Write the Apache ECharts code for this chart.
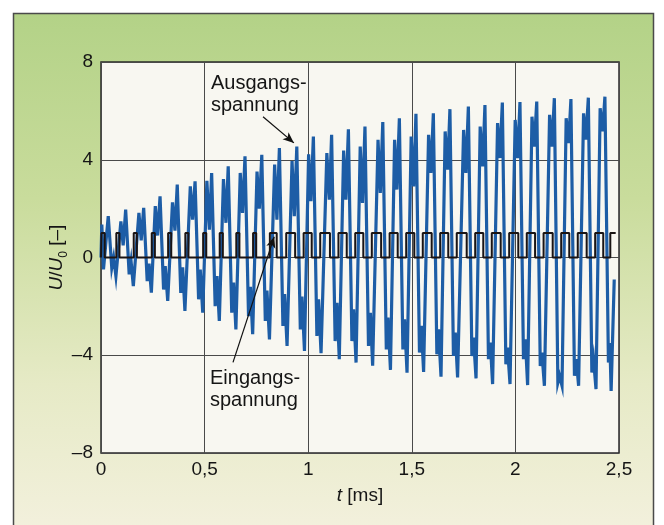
<!DOCTYPE html>
<html>
<head>
<meta charset="utf-8">
<script src="https://cdn.jsdelivr.net/npm/echarts@6/dist/echarts.min.js"></script>
<style>
html,body{margin:0;padding:0;background:#ffffff;}
#c{width:664px;height:525px;}
</style>
</head>
<body>
<div id="c"></div>
<script>
// ---- data ----
const xTicks = ['0', '0,5', '1', '1,5', '2', '2,5'];
const yTicks = [-8, -4, 0, 4, 8];

// Ausgangsspannung U/U0 over t [ms]
const outputSignal = [
  [0,0],[0.004,1.35],[0.012,-0.49],[0.035,1.69],[0.052,-0.42],[0.061,0.0],[0.072,-0.76],
  [0.096,1.48],[0.107,0.5],[0.119,1.96],[0.136,-0.69],[0.145,-0.15],[0.156,-1.17],
  [0.183,1.83],[0.194,0.7],[0.206,2.03],[0.223,-0.97],[0.232,-0.25],[0.243,-1.44],
  [0.262,2.1],[0.273,0.9],[0.285,2.5],[0.302,-1.31],[0.310,-0.35],[0.322,-1.78],
  [0.345,2.26],[0.357,1.1],[0.368,2.98],[0.385,-1.45],[0.394,-0.4],[0.405,-2.19],
  [0.431,2.91],[0.442,1.55],[0.454,3.12],[0.471,-1.71],[0.479,-0.49],[0.491,-2.26],
  [0.511,3.14],[0.523,1.14],[0.534,3.46],[0.551,-1.99],[0.560,-0.76],[0.571,-2.6],
  [0.591,3.21],[0.603,1.42],[0.614,3.73],[0.631,-2.26],[0.640,-1.03],[0.651,-2.94],
  [0.672,3.46],[0.683,1.82],[0.695,4.14],[0.712,-2.4],[0.721,-1.2],[0.732,-3.14],
  [0.753,3.52],[0.764,2.0],[0.776,4.2],[0.793,-2.6],[0.801,-1.35],[0.813,-3.35],
  [0.838,3.8],[0.849,1.55],[0.861,4.48],[0.878,-2.8],[0.886,-1.5],[0.898,-3.62],
  [0.922,3.95],[0.933,1.69],[0.945,4.54],[0.962,-2.94],[0.970,-1.6],[0.982,-3.82],
  [1.002,4.22],[1.013,2.3],[1.025,4.95],[1.042,-3.21],[1.050,-1.71],[1.062,-3.92],
  [1.090,4.27],[1.102,2.37],[1.113,5.02],[1.130,-3.42],[1.139,-1.85],[1.150,-4.16],
  [1.171,4.38],[1.182,2.37],[1.194,5.25],[1.211,-3.42],[1.219,-2.12],[1.231,-4.3],
  [1.251,4.54],[1.262,2.23],[1.274,5.36],[1.291,-3.62],[1.300,-2.26],[1.311,-4.43],
  [1.337,4.82],[1.348,2.64],[1.360,5.54],[1.377,-3.76],[1.385,-2.46],[1.397,-4.6],
  [1.417,4.82],[1.428,2.78],[1.440,5.7],[1.457,-3.76],[1.465,-2.53],[1.477,-4.71],
  [1.497,4.95],[1.509,2.91],[1.520,5.88],[1.537,-3.89],[1.546,-2.8],[1.557,-4.68],
  [1.581,5.02],[1.592,3.46],[1.604,5.9],[1.621,-3.96],[1.629,-2.94],[1.641,-4.88],
  [1.661,5.16],[1.673,3.6],[1.684,6.07],[1.701,-4.03],[1.710,-3.07],[1.721,-4.91],
  [1.750,5.22],[1.761,3.46],[1.773,6.18],[1.790,-4.03],[1.798,-3.28],[1.810,-4.95],
  [1.830,5.36],[1.842,3.73],[1.853,6.24],[1.870,-4.16],[1.879,-3.48],[1.890,-5.18],
  [1.914,5.5],[1.925,4.07],[1.937,6.34],[1.954,-4.37],[1.962,-3.69],[1.974,-5.18],
  [1.999,5.63],[2.011,4.07],[2.022,6.36],[2.039,-4.16],[2.048,-3.35],[2.059,-5.22],
  [2.080,5.76],[2.091,4.54],[2.103,6.38],[2.120,-4.44],[2.128,-3.89],[2.140,-5.25],
  [2.165,5.84],[2.176,4.54],[2.188,6.52],[2.205,-5.12],[2.213,-4.84],[2.225,-5.25],
  [2.245,5.7],[2.257,4.68],[2.268,6.48],[2.285,-4.84],[2.294,-4.16],[2.305,-5.25],
  [2.329,5.9],[2.340,4.82],[2.352,6.54],[2.369,-4.71],[2.377,-4.16],[2.389,-5.39],
  [2.409,6.11],[2.421,5.16],[2.432,6.58],[2.449,-4.3],[2.456,-3.5],[2.462,-5.46],
  [2.477,-0.9]
];

// Eingangsspannung: pulse edges (level 0 -> 1 at rise, 1 -> 0 at fall), t [ms]
const inputRise = [0.002,0.074,0.158,0.245,0.324,0.407,0.493,0.573,0.653,0.734,
  0.815,0.894,0.978,1.058,1.146,1.227,1.307,1.393,1.473,1.553,1.637,1.717,1.806,
  1.886,1.970,2.055,2.136,2.221,2.301,2.385,2.458];
const inputFall = [0.018,0.089,0.173,0.260,0.339,0.422,0.508,0.588,0.668,0.749,
  0.848,0.937,1.017,1.105,1.186,1.266,1.352,1.432,1.512,1.596,1.676,1.765,1.845,
  1.929,2.014,2.095,2.180,2.260,2.344,2.424,2.484];
const inputHigh = 1;
const inputLow = 0;

// ---- build series data ----
const inputSignal = [[0, inputLow]];
for (let i = 0; i < inputRise.length; i++) {
  inputSignal.push([inputRise[i], inputLow], [inputRise[i], inputHigh], [inputFall[i], inputHigh]);
  if (i < inputRise.length - 1) inputSignal.push([inputFall[i], inputLow]);
}

const FONT = "'Liberation Sans', Arial, Helvetica, sans-serif";
const chart = echarts.init(document.getElementById('c'), null, {renderer: 'canvas'});

const option = {
  animation: false,
  backgroundColor: '#ffffff',
  graphic: [
    {
      type: 'rect', z: -10, silent: true,
      shape: {x: 13.5, y: 13.5, width: 640, height: 530},
      style: {
        fill: new echarts.graphic.LinearGradient(0, 0, 0, 1, [
          {offset: 0, color: '#b3d287'},
          {offset: 0.35, color: '#c9dc9c'},
          {offset: 0.7, color: '#e6eac6'},
          {offset: 1, color: '#f4f1df'}
        ]),
        stroke: '#4a4a4a', lineWidth: 1.5
      }
    },
    {type: 'text', left: 211, top: 73, z: 20, style: {text: 'Ausgangs-', font: '20px ' + FONT, fill: '#151515'}},
    {type: 'text', left: 211, top: 95, z: 20, style: {text: 'spannung', font: '20px ' + FONT, fill: '#151515'}},
    {type: 'text', left: 210, top: 368, z: 20, style: {text: 'Eingangs-', font: '20px ' + FONT, fill: '#151515'}},
    {type: 'text', left: 210, top: 390, z: 20, style: {text: 'spannung', font: '20px ' + FONT, fill: '#151515'}}
  ],
  grid: {
    left: 101, top: 62, width: 518, height: 391,
    show: true, backgroundColor: '#f8f7f1', borderColor: '#2a2a2a', borderWidth: 1.5
  },
  xAxis: {
    type: 'value', min: 0, max: 2.5, interval: 0.5,
    name: '{i|t} [ms]', nameLocation: 'middle', nameGap: 33, nameMoveOverlap: false,
    nameTextStyle: {fontFamily: FONT, fontSize: 19, color: '#151515',
      rich: {i: {fontStyle: 'italic', fontFamily: FONT, fontSize: 19, color: '#151515'}}},
    axisLine: {show: false}, axisTick: {show: false},
    axisLabel: {fontFamily: FONT, fontSize: 19, color: '#151515', margin: 7,
      formatter: function (v) { return xTicks[Math.round(v / 0.5)]; }},
    splitLine: {show: true, lineStyle: {color: '#4a4a4a', width: 1}}
  },
  yAxis: {
    type: 'value', min: -8, max: 8, interval: 4,
    name: '{i|U}/{i|U}{s|0} [–]', nameLocation: 'middle', nameGap: 31, nameRotate: 90,
    nameMoveOverlap: false,
    nameTextStyle: {fontFamily: FONT, fontSize: 19, color: '#151515', lineHeight: 26,
      rich: {
        i: {fontStyle: 'italic', fontFamily: FONT, fontSize: 19, color: '#151515', lineHeight: 26},
        s: {fontFamily: FONT, fontSize: 12, color: '#151515', verticalAlign: 'bottom', lineHeight: 26}
      }},
    axisLine: {show: false}, axisTick: {show: false},
    axisLabel: {fontFamily: FONT, fontSize: 19, color: '#151515', margin: 8,
      formatter: function (v) { return v < 0 ? '–' + Math.abs(v) : String(v); }},
    splitLine: {show: true, lineStyle: {color: '#4a4a4a', width: 1}}
  },
  series: [
    {
      name: 'Ausgangsspannung', type: 'line', data: outputSignal, showSymbol: false,
      lineStyle: {color: '#1d5da6', width: 3.2, join: 'miter'}, z: 3,
      markLine: {
        silent: true, symbol: ['none', 'arrow'], symbolSize: [7, 11],
        label: {show: false},
        lineStyle: {color: '#111', width: 1.2, type: 'solid'},
        data: [[{coord: [0.782, 5.76]}, {coord: [0.931, 4.69]}]]
      }
    },
    {
      name: 'Eingangsspannung', type: 'line', data: inputSignal, showSymbol: false,
      lineStyle: {color: '#1a1414', width: 2}, z: 4,
      markLine: {
        silent: true, symbol: ['none', 'arrow'], symbolSize: [7, 11],
        label: {show: false},
        lineStyle: {color: '#111', width: 1.2, type: 'solid'},
        data: [[{coord: [0.637, -4.29]}, {coord: [0.836, 0.85]}]]
      }
    }
  ]
};
chart.setOption(option);
</script>
</body>
</html>
